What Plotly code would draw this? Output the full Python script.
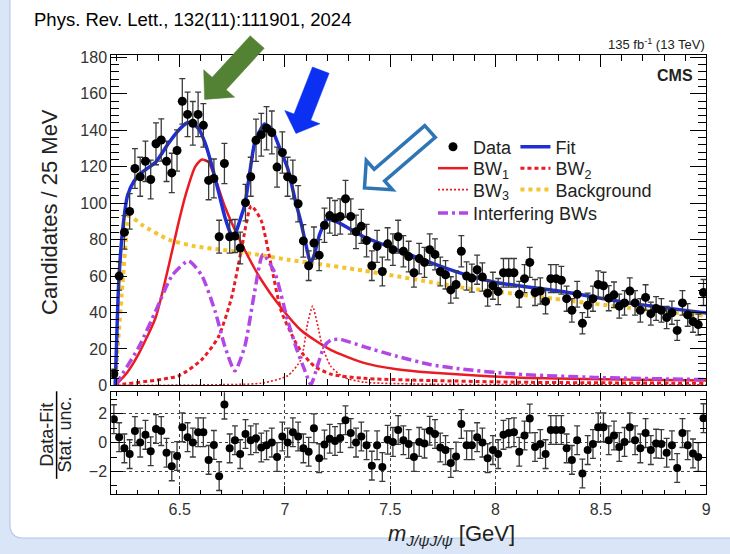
import math
import plotly.graph_objects as go

W, H = 730, 554
FONT = "Liberation Sans"

# ---------------- data ----------------
bin_first_center = 6.1875   # GeV
bin_width = 0.025           # GeV (25 MeV)

counts = [6.4, 60, 84, 95.5, 119, 114.5, 123, 113, 132.6, 134.7,
          123, 116.6, 128.9, 155.9, 148.7, 143.8, 148.7, 142.7, 112.5, 113.6,
          81.6, 121.8, 81.6, 82, 75.4, 100.3, 114.5, 134.5, 137.6, 141.1,
          138.8, 119.8, 127.8, 114.5, 113, 99.7, 79.3, 65.7, 78.1, 71.5,
          87.9, 93.2, 91.9, 92.7, 102.4, 92.7, 84.3, 87.3, 79.5, 65.7,
          76.3, 62.5, 77.7, 74.5, 81.6, 73.6, 70.7, 61.8, 69.6, 67.5,
          74.5, 71.9, 62.5, 60.7, 52.4, 55.4, 73.6, 60, 58.9, 63.5,
          59.5, 50.6, 54.7, 51.5, 61.8, 61.8, 61.8, 50, 58.6, 67.5,
          51, 51.8, 46.1, 58.6, 58.6, 57.7, 47.6, 41.2, 50, 34.1,
          44, 47.6, 55.4, 54.7, 47.9, 49.7, 43.5, 45.3, 51.8, 45.3,
          41.2, 48.3, 39.4, 42.2, 41.2, 37.3, 39.9, 30.2, 45.3, 38.7,
          35.1, 33.4, 51]

pulls = [1.63, 0.38, -0.4, -0.8, 0.8, 0, 0.54, -0.6, 0.95, 0.8,
         -0.7, -1.65, -0.93, 1.06, 0.38, 0, 0.72, 0.72, -1.2, -0.16,
         -2.33, 2.64, -0.4, 0.16, -0.8, 0.6, 0.16, 0.3, -0.34, -0.18,
         0, -1.0, 0.42, 0, 0.72, 0.42, -0.4, -0.63, 1.0, -1.08,
         -0.13, 0.27, 0.11, 0.32, 1.56, 0.66, 0, 0.42, -0.18, -1.6,
         -0.18, -1.7, 0.2, 0.05, 0.88, 0.16,
         -0.1, -1.0, 0.05, -0.07, 0.83, 0.6, -0.34, -0.52, -1.42, -0.97,
         1.29, -0.18, -0.18, 0.38, 0, -1.08, -0.52, -0.8, 0.54, 0.66,
         0.72, -0.63, 0.5, 1.67, -0.3, -0.1, -0.8, 0.88, 0.88, 0.88,
         -0.4, -1.2, 0.16, -2.15, -0.52, -0.1, 1.06, 1.06, 0.16, 0.5,
         -0.3, 0.05, 1.06, 0.16, -0.4, 0.66, -0.52, -0.07, -0.1, -0.7,
         -0.18, -1.76, 0.66, -0.18, -0.75, -1.0, 1.7]

fit_m = [6.194, 6.200, 6.210, 6.228, 6.252, 6.283, 6.322, 6.386, 6.448, 6.495,
         6.534, 6.558, 6.589, 6.621, 6.652, 6.684, 6.715, 6.740, 6.754, 6.770,
         6.790, 6.809, 6.833, 6.856, 6.887, 6.903, 6.935, 6.974, 7.013, 7.050,
         7.075, 7.100, 7.122, 7.140, 7.165, 7.200, 7.249, 7.374, 7.531, 7.688,
         7.845, 8.002, 8.316, 8.630, 9.000]
fit_y = [0, 22, 55, 84, 104, 112, 117, 122.5, 133, 140,
         144, 144, 141, 133, 121, 106.5, 92.3, 84, 82, 85,
         92, 99, 117, 133, 141, 143.4, 141, 130.5, 119, 101,
         90, 77, 67, 72, 83, 91, 89.6, 81.6, 74.5, 67.5,
         61.2, 56.5, 51.5, 45.3, 39.8]

bkg_m = [6.194, 6.197, 6.228, 6.252, 6.262, 6.322, 6.448, 6.574, 6.699, 6.856,
         7.013, 7.107, 7.374, 7.688, 7.845, 8.002, 8.316, 8.630, 9.000]
bkg_y = [0, 7, 55, 88.7, 93, 88, 80, 76.3, 74.5, 72,
         69, 67.5, 63, 56.8, 53.6, 51.5, 47, 42.6, 38.2]

bw1_m = [6.194, 6.250, 6.307, 6.386, 6.448, 6.490, 6.527, 6.574, 6.605, 6.637,
         6.668, 6.715, 6.793, 6.887, 6.982, 7.076, 7.217, 7.374, 7.531, 7.688,
         8.096, 8.500, 9.000]
bw1_y = [0, 7, 17.7, 37.3, 65.7, 87, 104, 120, 124, 122.5,
         114, 98, 78, 58, 42.6, 30.3, 19.5, 12.4, 8.9, 7.1,
         4.4, 3.4, 2.7]

bw2_m = [6.194, 6.495, 6.605, 6.684, 6.746, 6.793, 6.840, 6.887, 6.935, 6.982,
         7.045, 7.080, 7.139, 7.217, 7.374, 8.096, 9.000]
bw2_y = [0.3, 5.3, 14.2, 26.6, 48, 74.5, 98.5, 90.5, 65.7, 40.8,
         24.9, 18, 10.6, 6.2, 3.9, 1.8, 1.2]

bw3_m = [6.194, 6.600, 6.887, 7.013, 7.076, 7.107, 7.131, 7.154, 7.178, 7.217,
         7.280, 7.374, 7.600, 8.200, 9.000]
bw3_y = [0, 0.3, 1.2, 5.3, 14.2, 33.7, 43.5, 33.7, 21.3, 10.6,
         4.4, 1.8, 0.8, 0.4, 0.3]

int_m = [6.194, 6.307, 6.386, 6.464, 6.542, 6.605, 6.668, 6.715, 6.762, 6.809,
         6.856, 6.895, 6.951, 7.013, 7.060, 7.092, 7.123, 7.154, 7.186, 7.217,
         7.264, 7.374, 7.531, 7.688, 7.845, 8.096, 8.473, 9.000]
int_y = [0, 21.3, 40.8, 60.3, 68.3, 60.3, 40.8, 21.3, 8, 21.3,
         51.5, 71.9, 62.1, 35.5, 18.5, 8.9, 0.5, 10.6, 21.3, 24.9,
         25.2, 21.3, 16, 11.5, 8.9, 6.2, 4.4, 3.2]

x_range = [6.175, 9.0]
main_y_range = [0, 181.5]
pull_y_range = [-3.6, 3.5]
pull_ticks = [-2, 0, 2]

# ---------------- colours ----------------
C_FIT = "#1f2fd3"
C_RED = "#ea1b23"
C_BKG = "#f4c430"
C_INT = "#b247e6"

# ---------------- helpers (pixel -> paper, margins are zero) ----------------
def fx(px):
    return px / W

def fy(py):
    return 1 - py / H

def arrow_path(tail, tip, sw, hw, hl):
    dx, dy = tip[0] - tail[0], tip[1] - tail[1]
    L = math.hypot(dx, dy)
    ux, uy = dx / L, dy / L
    px, py = -uy, ux
    bx, by = tip[0] - hl * ux, tip[1] - hl * uy
    pts = [(tail[0] + sw / 2 * px, tail[1] + sw / 2 * py),
           (bx + sw / 2 * px, by + sw / 2 * py),
           (bx + hw / 2 * px, by + hw / 2 * py),
           tip,
           (bx - hw / 2 * px, by - hw / 2 * py),
           (bx - sw / 2 * px, by - sw / 2 * py),
           (tail[0] - sw / 2 * px, tail[1] - sw / 2 * py)]
    return "M " + " L ".join(f"{fx(a):.5f},{fy(b):.5f}" for a, b in pts) + " Z"

fig = go.Figure()

fig.add_trace(go.Scatter(x=bkg_m, y=bkg_y, mode="lines", name="Background",
                         line=dict(color=C_BKG, width=4, dash="4px,4px", shape="spline", smoothing=0.6),
                         legend="legend6", xaxis="x", yaxis="y"))
fig.add_trace(go.Scatter(x=bw3_m, y=bw3_y, mode="lines", name="BW<sub>3</sub>",
                         line=dict(color=C_RED, width=1.6, dash="2px,2px", shape="spline", smoothing=0.6),
                         legend="legend5", xaxis="x", yaxis="y"))
fig.add_trace(go.Scatter(x=bw2_m, y=bw2_y, mode="lines", name="BW<sub>2</sub>",
                         line=dict(color=C_RED, width=3, dash="4px,3px", shape="spline", smoothing=0.6),
                         legend="legend4", xaxis="x", yaxis="y"))
fig.add_trace(go.Scatter(x=bw1_m, y=bw1_y, mode="lines", name="BW<sub>1</sub>",
                         line=dict(color=C_RED, width=2.5, shape="spline", smoothing=0.6),
                         legend="legend3", xaxis="x", yaxis="y"))
fig.add_trace(go.Scatter(x=int_m, y=int_y, mode="lines", name="Interfering BWs",
                         line=dict(color=C_INT, width=3.5, dash="10px,4px,3px,4px", shape="spline", smoothing=0.6),
                         legend="legend7", xaxis="x", yaxis="y"))
fig.add_trace(go.Scatter(x=fit_m, y=fit_y, mode="lines", name="Fit",
                         line=dict(color=C_FIT, width=3.5, shape="spline", smoothing=0.6),
                         legend="legend2", xaxis="x", yaxis="y"))
fig.add_trace(go.Scatter(x0=bin_first_center, dx=bin_width, y=counts, mode="markers", name="Data",
                         marker=dict(color="black", size=9),
                         error_y=dict(type="sqrt", color="#3a3a3a", thickness=1.3, width=3),
                         legend="legend", xaxis="x", yaxis="y"))
fig.add_trace(go.Scatter(x0=bin_first_center, dx=bin_width, y=pulls, mode="markers", showlegend=False,
                         marker=dict(color="black", size=8),
                         error_y=dict(type="constant", value=1, color="#3a3a3a", thickness=1.3, width=3),
                         xaxis="x2", yaxis="y2"))

X_DOM = [fx(112), fx(711)]
common = dict(showline=True, linecolor="black", linewidth=1, mirror="ticks", ticks="inside",
              tickcolor="black", zeroline=False,
              tickfont=dict(family=FONT, size=16, color="#333333"))
LEG_FONT = dict(family=FONT, size=18, color="#222222")

def leg(px, py):
    return dict(x=fx(px), y=fy(py), xanchor="left", yanchor="middle", bgcolor="rgba(0,0,0,0)",
                borderwidth=0, font=LEG_FONT, itemwidth=30)

COL1, COL2 = 436, 519
ROWS = [145, 167, 189, 213]

fig.update_layout(
    width=W, height=H, margin=dict(l=0, r=0, t=0, b=0),
    paper_bgcolor="#dae6f7", plot_bgcolor="rgba(0,0,0,0)",
    font=dict(family=FONT, color="#222222"),
    xaxis=dict(domain=X_DOM, range=x_range, anchor="y", showticklabels=False, showgrid=False,
               tick0=6.5, dtick=0.5, ticklen=12,
               minor=dict(dtick=0.1, ticklen=6, ticks="inside", tickcolor="black"), **common),
    yaxis=dict(domain=[fy(390), fy(50)], range=main_y_range, anchor="x", showgrid=False,
               tick0=0, dtick=20, ticklen=16,
               minor=dict(dtick=4, ticklen=8, ticks="inside", tickcolor="black"), **common),
    xaxis2=dict(domain=X_DOM, range=x_range, anchor="y2", showticklabels=True,
                showgrid=True, gridcolor="#444444", griddash="dot", gridwidth=1,
                tick0=6.5, dtick=0.5, ticklen=8,
                minor=dict(dtick=0.1, ticklen=4, ticks="inside", tickcolor="black", showgrid=False),
                **common),
    yaxis2=dict(domain=[fy(502), fy(397)], range=pull_y_range, anchor="x2",
                tickvals=pull_ticks, showgrid=True, gridcolor="#444444", griddash="dot", gridwidth=1,
                ticklen=12,
                minor=dict(dtick=1, ticklen=6, ticks="inside", tickcolor="black", showgrid=False),
                **common),
    legend=leg(COL1, ROWS[0]),
    legend2=leg(COL2, ROWS[0]),
    legend3=leg(COL1, ROWS[1]),
    legend4=leg(COL2, ROWS[1]),
    legend5=leg(COL1, ROWS[2]),
    legend6=leg(COL2, ROWS[2]),
    legend7=leg(COL1, ROWS[3]),
    showlegend=True,
)

shapes = [
    dict(type="path", xref="paper", yref="paper", layer="below",
         path=f"M {fx(10)},{fy(-10)} L {fx(745)},{fy(-10)} L {fx(745)},{fy(547)} "
              f"L {fx(24)},{fy(547)} Q {fx(10)},{fy(547)} {fx(10)},{fy(533)} Z",
         fillcolor="white", line=dict(color="#b7cbe9", width=1.2)),
    dict(type="line", xref="paper", yref="paper", x0=fx(57), x1=fx(57), y0=fy(396), y1=fy(486),
         line=dict(color="black", width=1.5)),
    dict(type="path", xref="paper", yref="paper", layer="above",
         path=arrow_path((259, 37), (206, 96), 19, 42, 22),
         fillcolor="#548235", line=dict(color="#548235", width=0.5)),
    dict(type="path", xref="paper", yref="paper", layer="above",
         path=arrow_path((323, 66), (298, 131), 18, 38, 18),
         fillcolor="#0b30f2", line=dict(color="#0b30f2", width=0.5)),
    dict(type="path", xref="paper", yref="paper", layer="above",
         path=arrow_path((433, 129), (367, 187), 16, 40, 20),
         fillcolor="white", line=dict(color="#2e75b6", width=3.5)),
]
fig.update_layout(shapes=shapes)

def note(text, x, y, size, xanchor="center", yanchor="middle", angle=0, color="#222222"):
    return dict(text=text, x=fx(x), y=fy(y), xref="paper", yref="paper", xanchor=xanchor,
                yanchor=yanchor, textangle=angle, showarrow=False,
                font=dict(family=FONT, size=size, color=color))

annotations = [
    note("Phys. Rev. Lett., 132(11):111901, 2024", 32, 14, 18.5, xanchor="left", color="black"),
    note("135 fb<sup>-1</sup> (13 TeV)", 712, 49, 13, xanchor="right", yanchor="bottom"),
    note("<b>CMS</b>", 700, 71, 16, xanchor="right"),
    note("Candidates / 25 MeV", 50, 212, 22, angle=-90),
    note("Data-Fit", 47, 441, 18, angle=-90),
    note("Stat. unc.", 66, 441, 18, angle=-90),
    note("<i>m</i><sub><i>J/ψJ/ψ</i></sub> [GeV]", 455, 544, 22),
]
fig.update_layout(annotations=annotations)

fig.write_html("out.html", config={"displayModeBar": False},
               post_script="document.body.style.margin='0px';document.body.style.overflow='hidden';")
